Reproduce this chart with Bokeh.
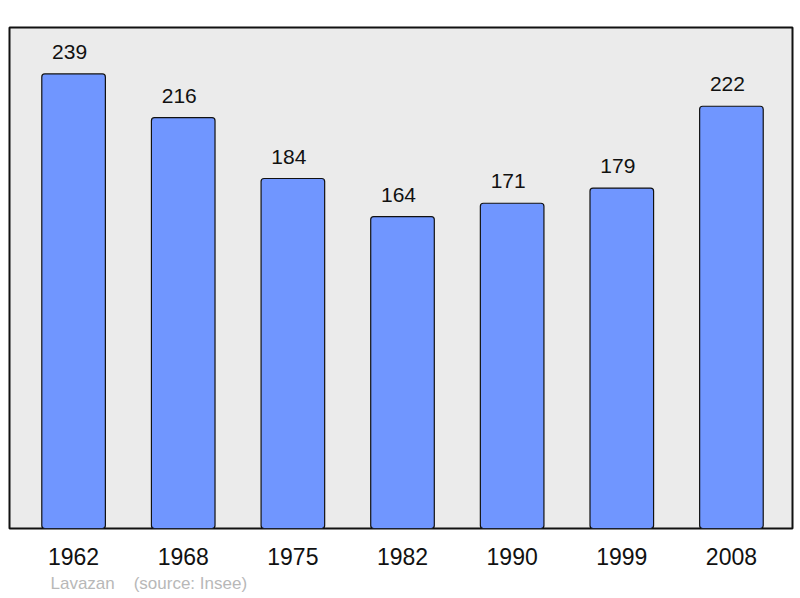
from bokeh.plotting import figure
from bokeh.models import ColumnDataSource, FixedTicker, Title, Range1d
from bokeh.core.properties import value
from bokeh.embed import file_html
from bokeh.resources import INLINE

years = ["1962", "1968", "1975", "1982", "1990", "1999", "2008"]
population = [239, 216, 184, 164, 171, 179, 222]
town = "Lavazan"
source_note = "(source: Insee)"

xs = list(range(len(years)))
src = ColumnDataSource(dict(x=xs, top=population, lab=[str(v) for v in population]))

FONT = "Liberation Sans"

p = figure(width=800, height=598, output_backend="svg", toolbar_location=None,
           x_range=Range1d(-0.5845, 6.557), y_range=Range1d(0, 263.4),
           frame_width=783, frame_height=501,
           min_border_left=9, min_border_right=8, min_border_top=27, min_border_bottom=70)
p.background_fill_color = "#ebebeb"
p.border_fill_color = "white"
p.outline_line_color = "#111111"
p.outline_line_width = 2
p.xgrid.visible = False
p.ygrid.visible = False
p.yaxis.visible = False

p.vbar(x="x", top="top", bottom=0, width=0.58, source=src, border_radius=3,
       fill_color="#7096ff", line_color="#111111", line_width=1.2)

p.text(x="x", y="top", text="lab", source=src, x_offset=-4, y_offset=-22,
       text_align="center", text_baseline="alphabetic",
       text_font=value(FONT), text_font_size="21px", text_color="#111111")

ax = p.xaxis[0]
ax.ticker = FixedTicker(ticks=xs)
ax.major_label_overrides = {i: y for i, y in enumerate(years)}
ax.axis_line_color = None
ax.major_tick_line_color = None
ax.minor_tick_line_color = None
ax.major_label_text_font = FONT
ax.major_label_text_font_size = "23px"
ax.major_label_text_color = "#111111"
ax.major_label_standoff = 13

caption = town + "\u00a0\u00a0\u00a0\u00a0" + source_note
p.add_layout(Title(text=caption, align="left", offset=41, standoff=9,
                   text_font=FONT, text_font_size="17px", text_color="#b8b8b8",
                   text_font_style="normal"), "below")

open("out.html", "w").write(file_html(p, INLINE))
